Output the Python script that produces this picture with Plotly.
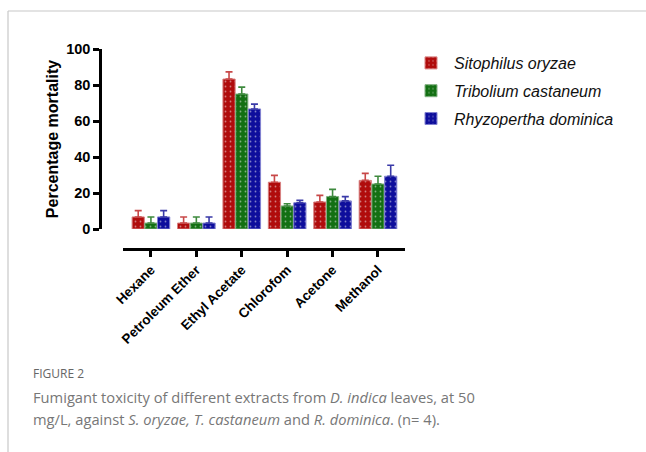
import plotly.graph_objects as go

# Extracts tested and mean mortality (%) per insect species, with upper SD
extracts = ["Hexane", "Petroleum Ether", "Ethyl Acetate", "Chlorofom", "Acetone", "Methanol"]
species = ["Sitophilus oryzae", "Tribolium castaneum", "Rhyzopertha dominica"]

s_oryzae = [6.7, 3.3, 83.3, 26.0, 15.0, 27.0]
s_oryzae_sd = [3.5, 3.4, 4.0, 3.8, 3.7, 3.9]

t_castaneum = [3.3, 3.3, 75.0, 12.8, 18.0, 25.0]
t_castaneum_sd = [3.4, 3.4, 3.8, 1.2, 4.0, 4.3]

r_dominica = [6.7, 3.3, 66.7, 14.6, 15.6, 29.3]
r_dominica_sd = [3.5, 3.4, 2.7, 1.3, 2.4, 6.1]

bar_colors = ["#B00C0C", "#137013", "#0E0E9C"]
edge_colors = ["#D88080", "#80B080", "#8080D0"]
err_colors = ["#C84848", "#3E8A3E", "#3A3AA8"]

values = [s_oryzae, t_castaneum, r_dominica]
errors = [s_oryzae_sd, t_castaneum_sd, r_dominica_sd]

FONT = "Liberation Sans, Arial, sans-serif"
CAP_FONT = "Open Sans, Noto Sans, sans-serif"

# pixel helpers: plot area spans x 100..405, y 49..249 (paper coords)
L, R, T, B = 100, 405, 49, 249
def px(x):
    return (x - L) / (R - L)
def py(y):
    return (B - y) / (B - T)

fig = go.Figure()
for i, name in enumerate(species):
    fig.add_trace(go.Bar(
        x=extracts,
        y=values[i],
        name=f"<i>{name}</i>",
        legendgroup=name,
        marker=dict(
            color=bar_colors[i],
            line=dict(color=edge_colors[i], width=1),
            pattern=dict(shape=".", fillmode="overlay", bgcolor=bar_colors[i],
                         fgcolor="#F0F0F0", size=5, solidity=0.1),
        ),
        error_y=dict(type="data", symmetric=False, array=errors[i],
                     arrayminus=[0] * len(extracts),
                     color=err_colors[i], thickness=1.6, width=3.5),
    ))

fig.update_layout(
    width=646, height=452,
    margin=dict(l=L, r=646 - R, t=T, b=452 - B),
    paper_bgcolor="white", plot_bgcolor="white",
    barmode="group", bargap=0.16, bargroupgap=0.04,
    font=dict(family=FONT, color="black"),
    showlegend=True,
    legend=dict(x=px(408), y=py(46), xanchor="left", yanchor="top",
                font=dict(family=FONT, size=16, color="#111"),
                tracegroupgap=4, itemwidth=36, bgcolor="rgba(0,0,0,0)"),
    xaxis=dict(
        domain=[px(123), 1], anchor="free", position=0,
        range=[-0.615, 5.595],
        showline=True, linecolor="black", linewidth=2.5,
        ticks="outside", ticklen=6, tickwidth=2.5, tickcolor="black",
        tickangle=-45, showgrid=False, zeroline=False,
        tickfont=dict(family=FONT, size=13.5, weight="bold", color="black"),
    ),
    yaxis=dict(
        domain=[py(229), 1], anchor="free", position=0,
        range=[0, 100], dtick=20,
        showline=True, linecolor="black", linewidth=2.5,
        ticks="outside", ticklen=6, tickwidth=2.5, tickcolor="black",
        showgrid=False, zeroline=False,
        tickfont=dict(family=FONT, size=14.5, weight="bold", color="black"),
        title=dict(text="Percentage mortality", standoff=2,
                   font=dict(family=FONT, size=16, weight="bold", color="black")),
    ),
)

# frame around the figure panel
frame = dict(type="line", xref="paper", yref="paper", line=dict(color="#C8C8C8", width=1.2))
fig.add_shape(**frame, x0=px(8), y0=py(11), x1=px(646), y1=py(11))
fig.add_shape(**frame, x0=px(8), y0=py(11), x1=px(8), y1=py(452))

# caption
fig.add_annotation(text="FIGURE 2", xref="paper", yref="paper", x=px(31), y=py(373),
                   xanchor="left", yanchor="middle", showarrow=False,
                   font=dict(family=CAP_FONT, size=12, color="#666666"))
fig.add_annotation(text="Fumigant toxicity of different extracts from <i>D. indica</i> leaves, at 50",
                   xref="paper", yref="paper", x=px(31), y=py(397),
                   xanchor="left", yanchor="middle", showarrow=False,
                   font=dict(family=CAP_FONT, size=14.7, color="#777777"))
fig.add_annotation(text="mg/L, against <i>S. oryzae, T. castaneum</i> and <i>R. dominica</i>. (n= 4).",
                   xref="paper", yref="paper", x=px(31), y=py(419),
                   xanchor="left", yanchor="middle", showarrow=False,
                   font=dict(family=CAP_FONT, size=14.7, color="#777777"))

fig.write_html("out.html")
